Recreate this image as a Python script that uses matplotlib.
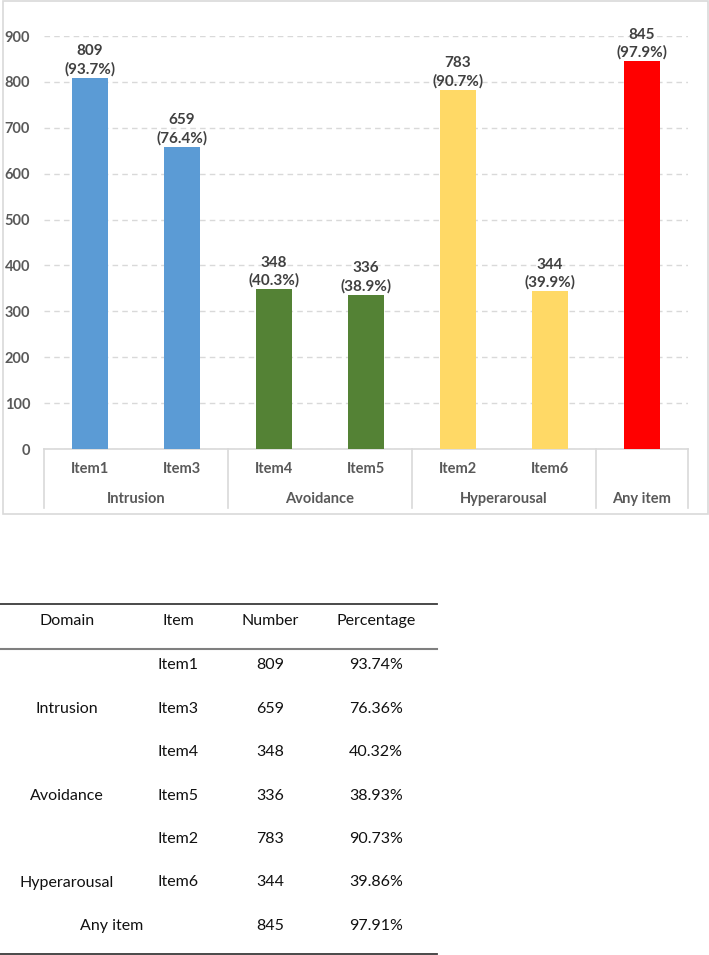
import matplotlib
matplotlib.use("Agg")
import matplotlib.pyplot as plt
from matplotlib.lines import Line2D
from matplotlib.patches import Rectangle
import matplotlib.transforms as mtransforms

plt.rcParams['font.family'] = ['Lato', 'DejaVu Sans']

# ---- data ----
items = ["Item1", "Item3", "Item4", "Item5", "Item2", "Item6", ""]
values = [809, 659, 348, 336, 783, 344, 845]
pct_label = [93.7, 76.4, 40.3, 38.9, 90.7, 39.9, 97.9]
bar_colors = ["#5B9BD5", "#5B9BD5", "#548235", "#548235", "#FFD966", "#FFD966", "#FF0000"]
groups = ["Intrusion", "Avoidance", "Hyperarousal", "Any item"]
group_sizes = [2, 2, 2, 1]
yticks = [0, 100, 200, 300, 400, 500, 600, 700, 800, 900]

tbl_header = ["Domain", "Item", "Number", "Percentage"]
tbl_items = ["Item1", "Item3", "Item4", "Item5", "Item2", "Item6", ""]
tbl_numbers = [809, 659, 348, 336, 783, 344, 845]
tbl_pct = ["93.74%", "76.36%", "40.32%", "38.93%", "90.73%", "39.86%", "97.91%"]
tbl_domains = ["Intrusion", "Avoidance", "Hyperarousal"]

W, H = 709, 955
fig = plt.figure(figsize=(W / 100, H / 100), dpi=100)

def fx(px):
    return px / W

def fy(py):
    return 1 - py / H

# outer chart border
fig.add_artist(Rectangle((fx(2.5), fy(514)), fx(705), 513 / H, transform=fig.transFigure,
                         fill=False, edgecolor="#D9D9D9", linewidth=1.2))

ax = fig.add_axes([fx(44), fy(449), fx(688 - 44), (449 - 36) / H])
x = list(range(len(values)))
ax.bar(x, values, width=0.4, color=bar_colors, zorder=3)
ax.set_xlim(-0.5, len(values) - 0.5)
ax.set_ylim(0, 900)
ax.set_yticks(yticks)
ax.set_yticklabels([str(t) for t in yticks], fontsize=10.5, fontweight="bold", color="#595959")
ax.tick_params(axis="y", length=0, pad=10)
ax.set_xticks([])
for s in ["top", "right", "left"]:
    ax.spines[s].set_visible(False)
ax.spines["bottom"].set_color("#D9D9D9")
ax.spines["bottom"].set_linewidth(1.2)
ax.grid(axis="y", color="#D9D9D9", linestyle=(0, (4, 3)), linewidth=1.0, zorder=0)
ax.set_axisbelow(True)

for xi, v, p in zip(x, values, pct_label):
    ax.annotate(f"{v}\n({p}%)", (xi, v), xytext=(0, 1), textcoords="offset points",
                ha="center", va="bottom", fontsize=11, fontweight="bold", color="#404040",
                linespacing=1.3, annotation_clip=False)

trans = mtransforms.blended_transform_factory(ax.transData, fig.transFigure)
# item labels
for xi, lab in zip(x, items):
    ax.text(xi, fy(469), lab, transform=trans, ha="center", va="center",
            fontsize=10.5, fontweight="bold", color="#595959")
# group boundaries and labels
start = -0.5
bounds = [start]
for g, n in zip(groups, group_sizes):
    end = start + n
    ax.text((start + end) / 2, fy(499), g, transform=trans, ha="center", va="center",
            fontsize=10.5, fontweight="bold", color="#595959")
    bounds.append(end)
    start = end
for b in bounds:
    ax.add_line(Line2D([b, b], [fy(449), fy(508)], transform=trans, color="#D9D9D9",
                       linewidth=1.2, clip_on=False))

# ---- table ----
fig.add_artist(Line2D([fx(0), fx(437)], [fy(604), fy(604)], transform=fig.transFigure,
                      color="#3A3A3A", linewidth=1.3))
fig.add_artist(Line2D([fx(0), fx(437)], [fy(649), fy(649)], transform=fig.transFigure,
                      color="#7F7F7F", linewidth=1.5))
fig.add_artist(Line2D([fx(0), fx(437)], [fy(954), fy(954)], transform=fig.transFigure,
                      color="#3A3A3A", linewidth=1.3))

col_x = [67, 178, 270, 376]
tfs = 11.5
for cx, h in zip(col_x, tbl_header):
    fig.text(fx(cx), fy(621), h, ha="center", va="center", fontsize=tfs, color="#111111")

row_y = [665, 708.5, 752, 795.5, 839, 882.5, 926]
for i, (it, num, pc) in enumerate(zip(tbl_items, tbl_numbers, tbl_pct)):
    if it:
        fig.text(fx(col_x[1]), fy(row_y[i]), it, ha="center", va="center", fontsize=tfs, color="#111111")
    fig.text(fx(col_x[2]), fy(row_y[i]), str(num), ha="center", va="center", fontsize=tfs, color="#111111")
    fig.text(fx(col_x[3]), fy(row_y[i]), pc, ha="center", va="center", fontsize=tfs, color="#111111")
for k, d in enumerate(tbl_domains):
    fig.text(fx(col_x[0]), fy(row_y[2 * k + 1]), d, ha="center", va="center", fontsize=tfs, color="#111111")
fig.text(fx(112), fy(row_y[6]), "Any item", ha="center", va="center", fontsize=tfs, color="#111111")

fig.savefig("out.png", dpi=100, facecolor="white")
